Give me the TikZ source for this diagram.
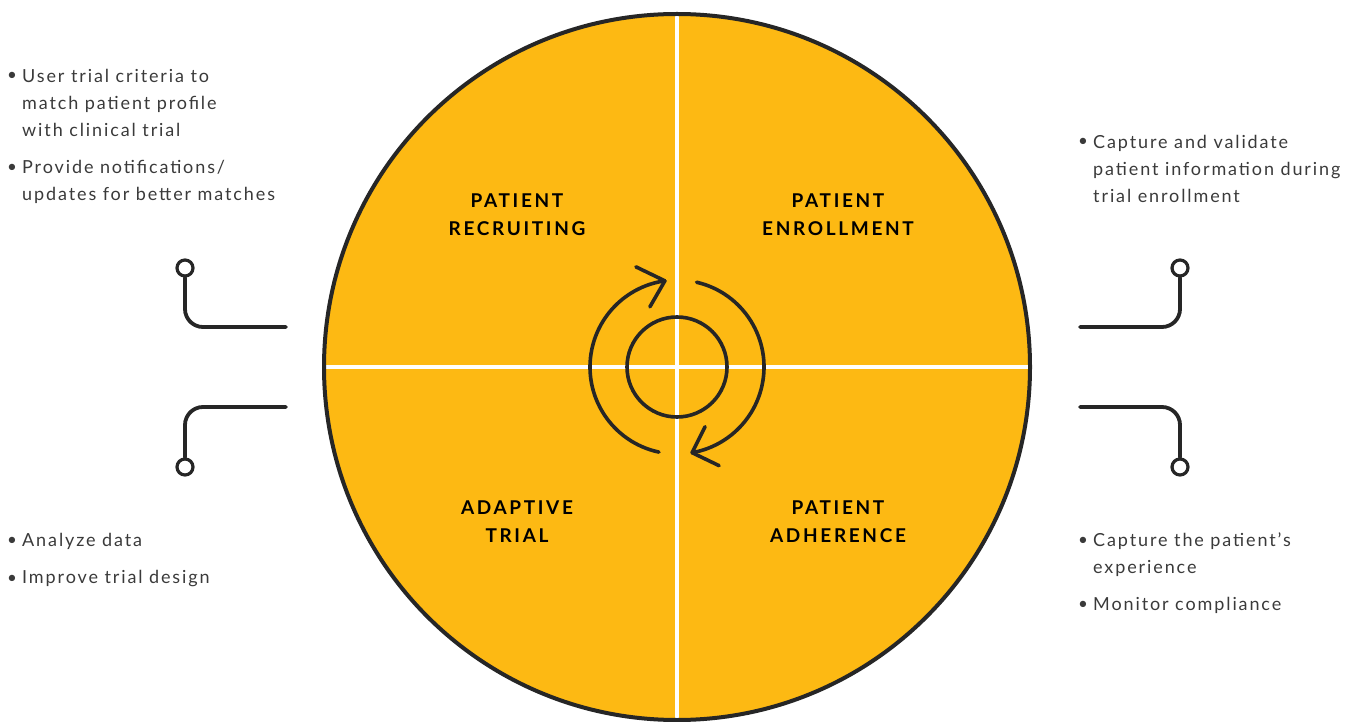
\documentclass[tikz,border=0pt]{standalone}
\usepackage{fontspec}
\setmainfont{Lato}[LetterSpace=10.5]
\newfontfamily\headfont{Lato}[LetterSpace=14]
\definecolor{wheel}{HTML}{FDB913}
\definecolor{ink}{HTML}{262626}
\definecolor{txt}{HTML}{3A3A3A}
\begin{document}
\begin{tikzpicture}[x=1pt,y=1pt,
  icon/.style={draw=ink, line width=3.6pt, line cap=round},
  link/.style={draw=ink, line width=3.8pt, line cap=round, rounded corners=18pt},
  dot/.style={circle, draw=ink, line width=3.2pt, fill=white, minimum size=16pt, inner sep=0pt},
  head/.style={font=\headfont\bfseries\fontsize{19}{28}\selectfont, text=black, align=center},
  body/.style={font=\fontsize{18}{27}\selectfont, text=txt, align=left, anchor=west, inner sep=0pt},
  bul/.style={font=\fontsize{17}{27}\selectfont, text=txt, inner sep=0pt}
]
\useasboundingbox (0,0) rectangle (1351,721);
% wheel
\coordinate (O) at (677,354);
\fill[wheel] (O) circle[radius=353];
\begin{scope}
  \clip (O) circle[radius=353];
  \draw[white, line width=4pt] (677,-10) -- (677,730);
  \draw[white, line width=4pt] (300,354) -- (1060,354);
\end{scope}
\draw[ink, line width=4pt] (O) circle[radius=353];

% cycle icon
\draw[icon] (O) circle[radius=50];
\draw[icon] (O) ++(258:87) arc[start angle=258, end angle=98, radius=87] coordinate (tipA);
\draw[icon] (tipA) -- ++(-29,14);
\draw[icon] (tipA) -- ++(-15,-26);
\draw[icon] (O) ++(77:87) arc[start angle=77, end angle=-80, radius=87] coordinate (tipB);
\draw[icon] (tipB) -- ++(13,26);
\draw[icon] (tipB) -- ++(27,-13);

% quadrant titles
\node[head] (q1) at (517,506) {PATIENT\\RECRUITING};
\node[head] (q2) at (838,506) {PATIENT\\ENROLLMENT};
\node[head] (q3) at (517,199) {ADAPTIVE\\TRIAL};
\node[head] (q4) at (838,199) {PATIENT\\ADHERENCE};

% connectors
\node[dot] (c1) at (185,453) {};
\coordinate (e1) at (286,394);
\draw[link] (c1.south) |- (e1);
\node[dot] (c2) at (185,254) {};
\coordinate (e2) at (286,314);
\draw[link] (c2.north) |- (e2);
\node[dot] (c3) at (1180,453) {};
\coordinate (e3) at (1080,394);
\draw[link] (c3.south) |- (e3);
\node[dot] (c4) at (1180,254) {};
\coordinate (e4) at (1080,314);
\draw[link] (c4.north) |- (e4);

% left top text
\node[bul] (b1) at (12,645) {•};
\node[body] (t1) at (22,618) {User trial criteria to\\match patient profile\\with clinical trial};
\node[bul] (b2) at (12,553) {•};
\node[body] (t2) at (22,539.5) {Provide notifications/\\updates for better matches};
% right top text
\node[bul] (b3) at (1083,579) {•};
\node[body] (t3) at (1093,552) {Capture and validate\\patient information during\\trial enrollment};
% left bottom text
\node[bul] (b4) at (12,180) {•};
\node[body] (t4) at (22,180) {Analyze data};
\node[bul] (b5) at (12,142) {•};
\node[body] (t5) at (22,142) {Improve trial design};
% right bottom text
\node[bul] (b6) at (1083,180) {•};
\node[body] (t6) at (1093,166.5) {Capture the patient’s\\experience};
\node[bul] (b7) at (1083,116) {•};
\node[body] (t7) at (1093,116) {Monitor compliance};
\end{tikzpicture}
\end{document}
